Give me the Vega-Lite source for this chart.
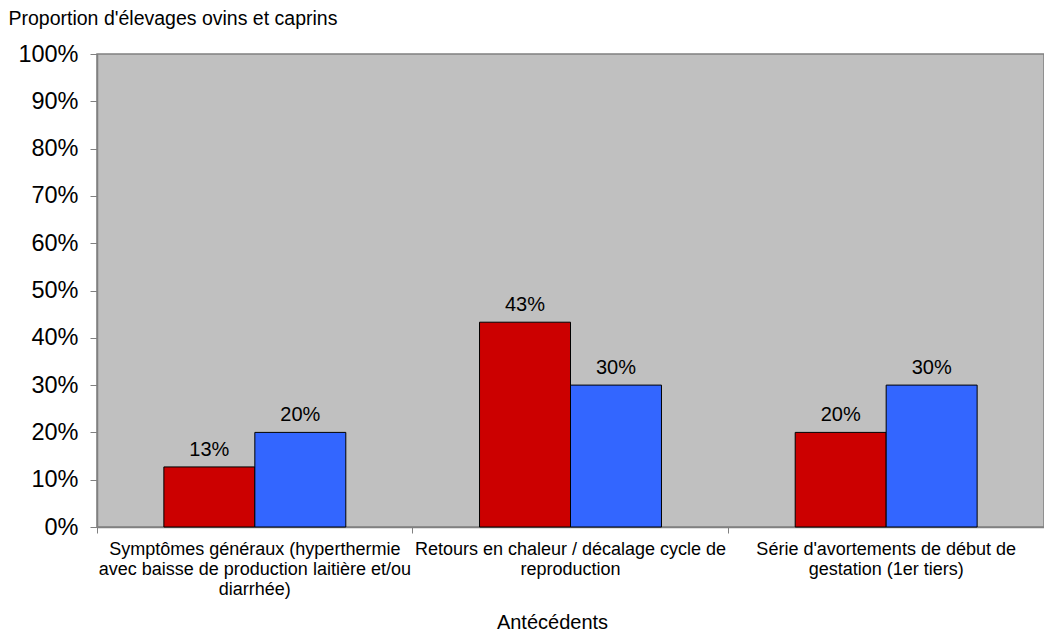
{
  "$schema": "https://vega.github.io/schema/vega-lite/v6.json",
  "autosize": {"type": "none"},
  "padding": {"left": 97, "top": 54, "right": 0, "bottom": 108},
  "width": 947,
  "height": 473,
  "background": "white",
  "config": {
    "font": "Liberation Sans",
    "view": {"fill": "#C0C0C0", "stroke": "#808080", "strokeWidth": 1.5}
  },
  "data": {
    "values": [
      {"antecedent": "Symptômes généraux (hyperthermie|avec baisse de production laitière et/ou|diarrhée)", "serie": "Série 1", "proportion": 0.127},
      {"antecedent": "Symptômes généraux (hyperthermie|avec baisse de production laitière et/ou|diarrhée)", "serie": "Série 2", "proportion": 0.20},
      {"antecedent": "Retours en chaleur / décalage cycle de|reproduction", "serie": "Série 1", "proportion": 0.433},
      {"antecedent": "Retours en chaleur / décalage cycle de|reproduction", "serie": "Série 2", "proportion": 0.30},
      {"antecedent": "Série d'avortements de début de|gestation (1er tiers)", "serie": "Série 1", "proportion": 0.20},
      {"antecedent": "Série d'avortements de début de|gestation (1er tiers)", "serie": "Série 2", "proportion": 0.30}
    ]
  },
  "encoding": {
    "x": {
      "field": "antecedent",
      "type": "nominal",
      "sort": null,
      "scale": {"paddingInner": 0, "paddingOuter": 0},
      "axis": {
        "title": "Antécédents",
        "titleFontSize": 20,
        "titleFontWeight": "normal",
        "titleColor": "black",
        "titleX": 455,
        "titleY": 101,
        "titleAnchor": null,
        "titleAlign": "center",
        "titleBaseline": "alphabetic",
        "labelExpr": "isString(datum.value) ? split(datum.value, '|') : ''",
        "labelAngle": 0,
        "labelFontSize": 18,
        "labelLineHeight": 20,
        "labelColor": "black",
        "labelBaseline": "top",
        "labelPadding": 7,
        "labelLimit": 0,
        "bandPosition": 1,
        "tickExtra": true,
        "tickSize": 6,
        "tickColor": "#808080",
        "domainColor": "#808080",
        "domainWidth": 1.5,
        "labelOverlap": false
      }
    },
    "xOffset": {
      "field": "serie",
      "type": "nominal",
      "scale": {"paddingInner": 0, "paddingOuter": 0.735}
    },
    "y": {
      "field": "proportion",
      "type": "quantitative",
      "scale": {"domain": [0, 1], "nice": false},
      "axis": {
        "title": "Proportion d'élevages ovins et caprins",
        "titleAngle": 0,
        "titleFontSize": 19.5,
        "titleFontWeight": "normal",
        "titleColor": "black",
        "titleX": -89,
        "titleY": -30,
        "titleAlign": "left",
        "titleAnchor": null,
        "titleBaseline": "alphabetic",
        "values": [0, 0.1, 0.2, 0.3, 0.4, 0.5, 0.6, 0.7, 0.8, 0.9, 1],
        "format": ".0%",
        "labelFontSize": 23.5,
        "labelColor": "black",
        "labelPadding": 12,
        "tickSize": 7,
        "tickColor": "#808080",
        "domainColor": "#808080",
        "domainWidth": 1.5,
        "grid": false
      }
    }
  },
  "layer": [
    {
      "mark": {"type": "bar", "stroke": "black", "strokeWidth": 1},
      "encoding": {
        "color": {
          "field": "serie",
          "type": "nominal",
          "scale": {"domain": ["Série 1", "Série 2"], "range": ["#CC0000", "#3366FF"]},
          "legend": null
        }
      }
    },
    {
      "mark": {"type": "text", "fontSize": 20, "color": "black", "baseline": "alphabetic", "dy": -11},
      "encoding": {
        "text": {"field": "proportion", "type": "quantitative", "format": ".0%"}
      }
    }
  ]
}
